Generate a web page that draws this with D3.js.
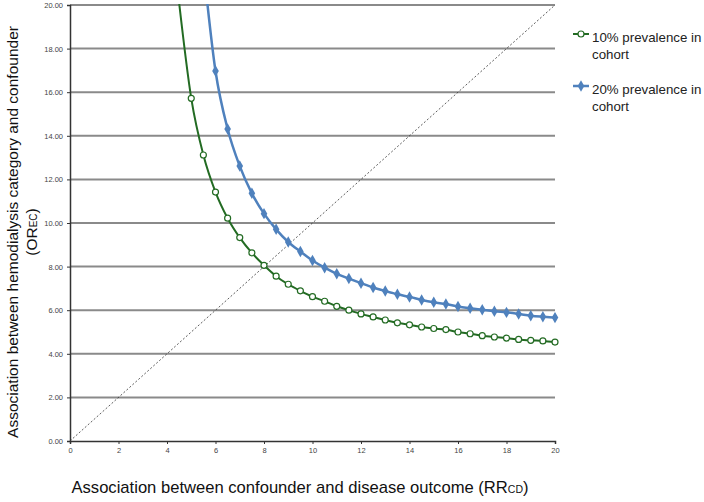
<!DOCTYPE html>
<html><head><meta charset="utf-8">
<script src="https://cdn.jsdelivr.net/npm/d3@7"></script>
<style>body{margin:0;background:#fff}svg{display:block;font-family:"Liberation Sans",Arial,sans-serif}</style>
</head><body><svg id="c" width="704" height="502"></svg>
<script>
const xTicks = [0,2,4,6,8,10,12,14,16,18,20];
const yTicks = [0,2,4,6,8,10,12,14,16,18,20];
const seriesNames = ["10% prevalence in cohort","20% prevalence in cohort"];
const x10 = [4.5,5,5.5,6,6.5,7,7.5,8,8.5,9,9.5,10,10.5,11,11.5,12,12.5,13,13.5,14,14.5,15,15.5,16,16.5,17,17.5,18,18.5,19,19.5,20];
const y10 = [20.1,15.72,13.12,11.42,10.22,9.33,8.63,8.06,7.56,7.19,6.89,6.62,6.41,6.18,6.00,5.83,5.69,5.55,5.42,5.33,5.23,5.16,5.11,5.00,4.92,4.83,4.77,4.72,4.66,4.62,4.59,4.54];
const x20 = [5.5,6,6.5,7,7.5,8,8.5,9,9.5,10,10.5,11,11.5,12,12.5,13,13.5,14,14.5,15,15.5,16,16.5,17,17.5,18,18.5,19,19.5,20];
const y20 = [21.8,16.97,14.31,12.61,11.36,10.43,9.71,9.13,8.69,8.28,7.95,7.67,7.45,7.24,7.04,6.88,6.73,6.61,6.47,6.36,6.28,6.17,6.09,6.02,5.95,5.90,5.83,5.75,5.70,5.66];
const diag = [[0,0],[20,20]];

const svg = d3.select("#c");
const L=70,R=555,T=5,B=441;
const x = d3.scaleLinear().domain([0,20]).range([L,R]);
const y = d3.scaleLinear().domain([0,20]).range([B,T]);
const green="#236b23", blue="#4f81bd";

svg.append("defs").append("clipPath").attr("id","clip").append("rect")
  .attr("x",L).attr("y",T-1).attr("width",R-L+8).attr("height",B-T+1);

// gridlines
svg.append("g").selectAll("line").data(yTicks.filter(d=>d>0)).join("line")
  .attr("x1",L).attr("x2",R).attr("y1",d=>y(d)).attr("y2",d=>y(d))
  .attr("stroke","#8a8a8a").attr("stroke-width",2);

// y axis
const ya = svg.append("g").attr("transform",`translate(${L},0)`)
  .call(d3.axisLeft(y).tickValues(yTicks).tickFormat(d3.format(".2f")).tickSize(3).tickPadding(4));
ya.select(".domain").attr("stroke","#333").attr("stroke-width",1.5);
ya.selectAll(".tick line").attr("stroke","#333");
ya.selectAll("text").attr("font-size",7.5).attr("fill","#444").attr("font-family","Liberation Sans, Arial");

// x axis
const xa = svg.append("g").attr("transform",`translate(0,${B})`)
  .call(d3.axisBottom(x).tickValues(xTicks).tickSize(3).tickPadding(4));
xa.select(".domain").attr("stroke","#333").attr("stroke-width",1.5);
xa.selectAll(".tick line").attr("stroke","#333");
xa.selectAll("text").attr("font-size",7.5).attr("fill","#444").attr("font-family","Liberation Sans, Arial");

// diagonal
svg.append("path").datum(diag)
  .attr("d",d3.line().x(d=>x(d[0])).y(d=>y(d[1])))
  .attr("stroke","#333").attr("stroke-width",0.8).attr("stroke-dasharray","2,2").attr("fill","none");

const g = svg.append("g").attr("clip-path","url(#clip)");
const line = d3.line().curve(d3.curveMonotoneX).x(d=>x(d[0])).y(d=>y(d[1]));
const d10 = x10.map((v,i)=>[v,y10[i]]);
const d20 = x20.map((v,i)=>[v,y20[i]]);

g.append("path").datum(d10).attr("d",line).attr("stroke",green).attr("stroke-width",2).attr("fill","none");
g.append("path").datum(d20).attr("d",line).attr("stroke",blue).attr("stroke-width",2.5).attr("fill","none");

g.selectAll(".m20").data(d20.filter(d=>d[1]<=20)).join("path")
  .attr("transform",d=>`translate(${x(d[0])},${y(d[1])})`)
  .attr("d",d3.symbol(d3.symbolDiamond,38)).attr("fill",blue);
g.selectAll(".m10").data(d10.filter(d=>d[1]<=20)).join("circle")
  .attr("cx",d=>x(d[0])).attr("cy",d=>y(d[1])).attr("r",3)
  .attr("fill","#fff").attr("stroke",green).attr("stroke-width",1.2);

// legend
const lg = svg.append("g");
lg.append("line").attr("x1",573).attr("x2",589).attr("y1",34).attr("y2",34).attr("stroke",green).attr("stroke-width",2);
lg.append("circle").attr("cx",581).attr("cy",34).attr("r",3).attr("fill","#fff").attr("stroke",green).attr("stroke-width",1.2);
lg.append("line").attr("x1",573).attr("x2",589).attr("y1",86).attr("y2",86).attr("stroke",blue).attr("stroke-width",2.5);
lg.append("path").attr("transform","translate(581,86)").attr("d",d3.symbol(d3.symbolDiamond,38)).attr("fill",blue);
const lt = [["10% prevalence in",41.5],["cohort",58.5],["20% prevalence in",94],["cohort",111]];
lg.selectAll("text").data(lt).join("text").attr("x",592).attr("y",d=>d[1])
  .attr("font-size",13.3).attr("fill","#222").text(d=>d[0]);

// axis titles
const xt = svg.append("text").attr("x",300).attr("y",493).attr("text-anchor","middle").attr("font-size",16.6).attr("fill","#111");
xt.append("tspan").text("Association between confounder and disease outcome (RR");
xt.append("tspan").attr("font-size",10.5).text("CD");
xt.append("tspan").text(")");

const yt = svg.append("g").attr("transform","translate(18,232) rotate(-90)");
yt.append("text").attr("x",0).attr("y",0).attr("text-anchor","middle").attr("font-size",15.5).attr("fill","#111")
  .text("Association between hemodialysis category and confounder");
const yt2 = yt.append("text").attr("x",0).attr("y",19).attr("text-anchor","middle").attr("font-size",15.5).attr("fill","#111");
yt2.append("tspan").text("(OR");
yt2.append("tspan").attr("font-size",10).text("EC");
yt2.append("tspan").text(")");
</script></body></html>
